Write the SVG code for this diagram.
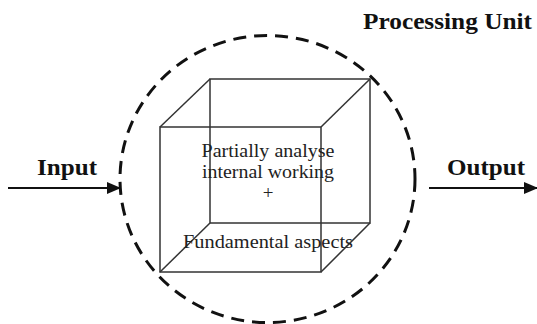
<svg xmlns="http://www.w3.org/2000/svg" width="537" height="324" viewBox="0 0 537 324">
<style>
.bold{font-family:"Liberation Serif",serif;font-weight:bold;font-size:23px;fill:#111}
.lbl{font-family:"Liberation Serif",serif;font-size:19px;fill:#222;text-anchor:middle}
.cube{fill:none;stroke:#333;stroke-width:1.5}
.conn{stroke:#111;stroke-width:2;fill:none}
</style>
<defs>
<marker id="ah" markerWidth="14" markerHeight="12" refX="13" refY="6" orient="auto" markerUnits="userSpaceOnUse">
<path d="M0,0 L14,6 L0,12 Z" fill="#111"/>
</marker>
</defs>
<rect width="537" height="324" fill="#fff"/>
<g id="processing-unit">
<ellipse cx="267.5" cy="179" rx="147.5" ry="143.5" fill="none" stroke="#111" stroke-width="3" stroke-dasharray="13 8"/>
<text class="bold" x="363" y="29" textLength="169" lengthAdjust="spacingAndGlyphs">Processing Unit</text>
</g>
<g id="cube">
<rect class="cube" x="160" y="127" width="161" height="145"/>
<rect class="cube" x="210" y="79" width="160" height="144"/>
<line class="cube" x1="160" y1="127" x2="210" y2="79"/>
<line class="cube" x1="321" y1="127" x2="370" y2="79"/>
<line class="cube" x1="160" y1="272" x2="210" y2="223"/>
<line class="cube" x1="321" y1="272" x2="370" y2="223"/>
<text class="lbl" x="268" y="157" textLength="133" lengthAdjust="spacingAndGlyphs">Partially analyse</text>
<text class="lbl" x="268" y="178" textLength="132" lengthAdjust="spacingAndGlyphs">internal working</text>
<text class="lbl" x="268" y="199">+</text>
<text class="lbl" x="268" y="248" textLength="170" lengthAdjust="spacingAndGlyphs">Fundamental aspects</text>
</g>
<g id="input">
<text class="bold" x="37" y="175" textLength="60" lengthAdjust="spacingAndGlyphs">Input</text>
</g>
<g id="output">
<text class="bold" x="447" y="175" textLength="78" lengthAdjust="spacingAndGlyphs">Output</text>
</g>
<g id="connectors">
<line class="conn" x1="8" y1="188" x2="120" y2="188" marker-end="url(#ah)"/>
<line class="conn" x1="429" y1="188" x2="537" y2="188" marker-end="url(#ah)"/>
</g>
</svg>
